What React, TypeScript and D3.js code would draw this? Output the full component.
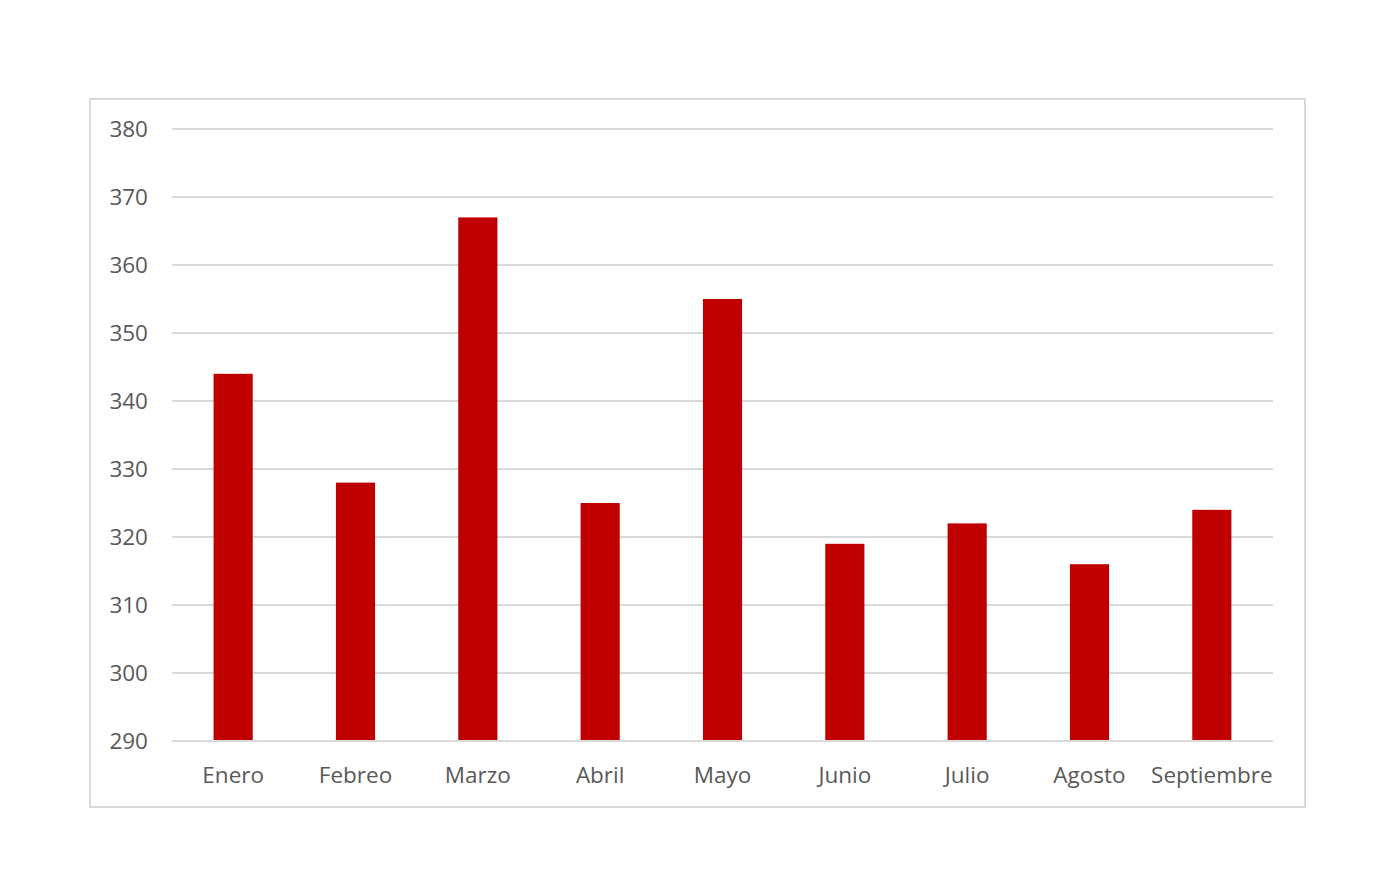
import { useEffect, useRef } from "react";
import * as d3 from "d3";

const MONTHS = ["Enero", "Febreo", "Marzo", "Abril", "Mayo", "Junio", "Julio", "Agosto", "Septiembre"];
const VALUES = [344, 328, 367, 325, 355, 319, 322, 316, 324];
const Y_TICKS = [290, 300, 310, 320, 330, 340, 350, 360, 370, 380];

const WIDTH = 1374;
const HEIGHT = 883;
const FRAME = { x: 90, y: 99, w: 1215, h: 708 };
const PLOT = { left: 172, right: 1273, top: 129, bottom: 741 };
const FONT = "'Open Sans', sans-serif";
const FONT_SIZE = 22.5;
const TEXT_COLOR = "#595959";
const GRID_COLOR = "#d9d9d9";
const BAR_COLOR = "#c00000";

export default function App() {
  const svgRef = useRef<SVGSVGElement>(null);

  useEffect(() => {
    const svgElement = svgRef.current;
    if (!svgElement) return;

    const svg = d3.select(svgElement);
    svg.selectAll("*").remove();

    svg
      .append("rect")
      .attr("x", FRAME.x)
      .attr("y", FRAME.y)
      .attr("width", FRAME.w)
      .attr("height", FRAME.h)
      .attr("fill", "#fff")
      .attr("stroke", GRID_COLOR)
      .attr("stroke-width", 2);

    const x = d3
      .scaleBand()
      .domain(MONTHS)
      .range([PLOT.left, PLOT.right])
      .paddingInner(0.68)
      .paddingOuter(0.34);

    const y = d3.scaleLinear().domain([290, 380]).range([PLOT.bottom, PLOT.top]);

    // gridlines
    svg
      .append("g")
      .selectAll("line")
      .data(Y_TICKS)
      .join("line")
      .attr("x1", PLOT.left)
      .attr("x2", PLOT.right)
      .attr("y1", (d) => y(d))
      .attr("y2", (d) => y(d))
      .attr("stroke", GRID_COLOR)
      .attr("stroke-width", 2);

    svg
      .append("g")
      .selectAll("text")
      .data(Y_TICKS)
      .join("text")
      .attr("x", 148)
      .attr("y", (d) => y(d))
      .attr("dy", "0.35em")
      .attr("text-anchor", "end")
      .attr("fill", TEXT_COLOR)
      .attr("font-family", FONT)
      .attr("font-size", FONT_SIZE)
      .text((d) => d);

    const data = MONTHS.map((m, i) => ({ month: m, value: VALUES[i] }));

    svg
      .append("g")
      .selectAll("rect")
      .data(data)
      .join("rect")
      .attr("x", (d) => x(d.month) ?? 0)
      .attr("y", (d) => y(d.value))
      .attr("width", x.bandwidth())
      .attr("height", (d) => y(290) - y(d.value))
      .attr("fill", BAR_COLOR);

    // redraw the baseline over the bars
    svg
      .append("line")
      .attr("x1", PLOT.left)
      .attr("x2", PLOT.right)
      .attr("y1", y(290))
      .attr("y2", y(290))
      .attr("stroke", GRID_COLOR)
      .attr("stroke-width", 2);

    svg
      .append("g")
      .selectAll("text")
      .data(MONTHS)
      .join("text")
      .attr("x", (d) => (x(d) ?? 0) + x.bandwidth() / 2)
      .attr("y", 775)
      .attr("dy", "0.35em")
      .attr("text-anchor", "middle")
      .attr("fill", TEXT_COLOR)
      .attr("font-family", FONT)
      .attr("font-size", FONT_SIZE)
      .text((d) => d);
  }, []);

  return (
    <svg
      ref={svgRef}
      width={WIDTH}
      height={HEIGHT}
      style={{ position: "absolute", left: 0, top: 0, background: "#fff" }}
    />
  );
}
